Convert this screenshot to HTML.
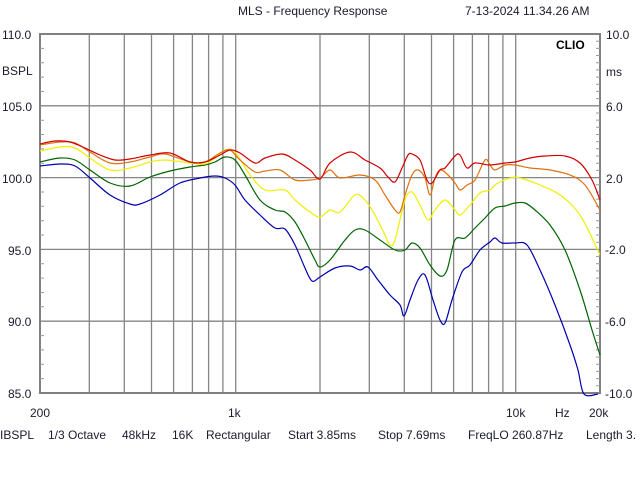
<!DOCTYPE html>
<html><head><meta charset="utf-8"><style>
html,body{margin:0;padding:0;background:#fff;width:640px;height:480px;overflow:hidden}
text{font-family:"Liberation Sans",sans-serif;font-size:12px;fill:#1a1a2e}
</style></head><body>
<svg width="640" height="480" xmlns="http://www.w3.org/2000/svg">
<g stroke="#858585" stroke-width="1.3" fill="none">
<line x1="89.3" y1="34" x2="89.3" y2="393"/><line x1="124.3" y1="34" x2="124.3" y2="393"/><line x1="151.5" y1="34" x2="151.5" y2="393"/><line x1="173.6" y1="34" x2="173.6" y2="393"/><line x1="192.4" y1="34" x2="192.4" y2="393"/><line x1="208.6" y1="34" x2="208.6" y2="393"/><line x1="222.9" y1="34" x2="222.9" y2="393"/><line x1="235.7" y1="34" x2="235.7" y2="393"/>
<line x1="320" y1="34" x2="320" y2="393"/><line x1="369.3" y1="34" x2="369.3" y2="393"/><line x1="404.3" y1="34" x2="404.3" y2="393"/><line x1="431.5" y1="34" x2="431.5" y2="393"/><line x1="453.6" y1="34" x2="453.6" y2="393"/><line x1="472.4" y1="34" x2="472.4" y2="393"/><line x1="488.6" y1="34" x2="488.6" y2="393"/><line x1="502.9" y1="34" x2="502.9" y2="393"/><line x1="515.7" y1="34" x2="515.7" y2="393"/>
<line x1="40" y1="105.8" x2="600" y2="105.8"/><line x1="40" y1="177.6" x2="600" y2="177.6"/><line x1="40" y1="249.4" x2="600" y2="249.4"/><line x1="40" y1="321.2" x2="600" y2="321.2"/>
</g>
<rect x="40" y="34" width="560" height="359" fill="none" stroke="#808080" stroke-width="2"/>
<g stroke="#999" stroke-width="1">
<path d="M40 48.4h4M40 62.7h4M40 77.1h4M40 91.5h4M40 120.2h4M40 134.5h4M40 148.9h4M40 163.2h4M40 192h4M40 206.3h4M40 220.7h4M40 235h4M40 263.8h4M40 278.1h4M40 292.5h4M40 306.8h4M40 335.6h4M40 349.9h4M40 364.3h4M40 378.6h4"/>
<path d="M596 41.2h4M596 48.4h4M596 55.5h4M596 62.7h4M596 69.9h4M596 77.1h4M596 84.2h4M596 91.4h4M596 98.6h4M596 113h4M596 120.1h4M596 127.3h4M596 134.5h4M596 141.7h4M596 148.8h4M596 156h4M596 163.2h4M596 170.4h4M596 184.8h4M596 192h4M596 199.1h4M596 206.3h4M596 213.5h4M596 220.7h4M596 227.8h4M596 235h4M596 242.2h4M596 256.6h4M596 263.8h4M596 270.9h4M596 278.1h4M596 285.3h4M596 292.4h4M596 299.6h4M596 306.8h4M596 314h4M596 328.4h4M596 335.5h4M596 342.7h4M596 349.9h4M596 357.1h4M596 364.2h4M596 371.4h4M596 378.6h4M596 385.8h4"/>
</g>
<g fill="none" stroke-width="1.2" stroke-linejoin="round" id="curves">
<polyline stroke="#0000b0" points="40,166 60,164 75,166 90,178 110,195 130,204 140,204 160,195 180,183 200,178 215,176 225,178 235,185 245,200 260,215 275,228 285,229 295,245 305,268 312,281 320,277 335,268 350,266 360,270 368,267 378,280 390,295 400,305 404,316 410,300 418,280 425,275 433,300 440,320 445,323 452,300 462,272 470,265 480,250 490,242 495,238 502,243 515,243 527,245 540,270 555,305 570,345 578,370 584,394 598,394"/>
<polyline stroke="#006400" points="40,162 60,158 75,160 90,170 110,183 130,186 150,177 170,171 190,167 205,165 215,162 225,157 235,160 245,175 260,200 275,210 285,212 295,222 305,240 315,260 320,267 330,260 345,240 355,230 365,230 380,240 395,250 405,250 412,243 420,248 430,265 440,276 447,270 455,240 465,238 475,228 485,218 495,208 505,206 515,203 525,203 535,210 550,225 565,250 580,290 592,330 600,355"/>
<polyline stroke="#f0f000" points="40,151 60,147 75,148 90,158 110,170 130,168 150,162 165,160 190,163 205,164 215,158 225,150 235,152 250,175 265,190 285,190 295,200 310,212 320,217 330,210 340,212 355,195 365,200 375,215 385,235 390,245 395,240 405,200 412,192 420,205 428,220 435,210 445,200 455,210 460,215 470,205 480,193 490,190 495,185 500,182 510,178 520,178 540,185 560,195 580,215 600,255"/>
<polyline stroke="#e07010" points="40,145 60,142 75,143 90,152 110,163 130,162 150,157 165,154 190,162 205,162 220,153 230,150 240,160 255,172 265,171 280,170 295,180 310,180 320,178 330,170 340,178 360,175 375,180 385,195 395,210 400,212 405,195 412,175 418,170 425,178 430,195 435,178 440,170 447,174 455,183 460,190 467,185 475,180 485,160 490,165 495,170 505,165 515,165 530,168 550,170 570,175 585,185 600,210"/>
<polyline stroke="#d00000" points="40,144 55,141 70,142 85,148 100,155 115,160 130,159 150,155 170,153 190,162 205,162 220,155 230,150 240,153 255,163 265,158 282,154 295,160 310,170 320,179 330,163 350,152 365,160 380,168 388,177 395,182 402,168 408,155 412,154 420,160 427,180 432,183 440,170 445,168 455,156 460,155 467,168 475,163 490,165 505,163 515,162 530,158 545,156 565,156 580,163 592,180 600,200"/>
</g>
<text x="238" y="15">MLS - Frequency Response</text>
<text x="465" y="15">7-13-2024 11.34.26 AM</text>
<text x="2" y="39">110.0</text>
<text x="2" y="75">BSPL</text>
<text x="2" y="111">105.0</text>
<text x="2" y="183">100.0</text>
<text x="8" y="255">95.0</text>
<text x="8" y="326">90.0</text>
<text x="8" y="398">85.0</text>
<text x="556" y="49" style="font-weight:bold;fill:#000">CLIO</text>
<text x="606" y="39">10.0</text>
<text x="606" y="76">ms</text>
<text x="606" y="111">6.0</text>
<text x="606" y="183">2.0</text>
<text x="605" y="254">-2.0</text>
<text x="605" y="326">-6.0</text>
<text x="605" y="398">-10.0</text>
<text x="30" y="417">200</text>
<text x="228" y="417">1k</text>
<text x="506" y="417">10k</text>
<text x="555" y="417">Hz</text>
<text x="589" y="417">20k</text>
<text x="0" y="439">IBSPL</text>
<text x="48" y="439">1/3 Octave</text>
<text x="122" y="439">48kHz</text>
<text x="172" y="439">16K</text>
<text x="206" y="439">Rectangular</text>
<text x="288" y="439">Start 3.85ms</text>
<text x="378" y="439">Stop 7.69ms</text>
<text x="468" y="439">FreqLO 260.87Hz</text>
<text x="586" y="439">Length 3.</text>
</svg>
<script>
document.querySelectorAll('#curves polyline').forEach(function(pl){
  var p=pl.getAttribute('points').trim().split(/\s+/).map(function(s){return s.split(',').map(Number)});
  var d='M'+p[0][0]+' '+p[0][1];
  for(var i=0;i<p.length-1;i++){
    var p0=p[i-1]||p[i],p1=p[i],p2=p[i+1],p3=p[i+2]||p2;
    var c1x=p1[0]+(p2[0]-p0[0])/6,c1y=p1[1]+(p2[1]-p0[1])/6;
    var c2x=p2[0]-(p3[0]-p1[0])/6,c2y=p2[1]-(p3[1]-p1[1])/6;
    d+=' C'+c1x.toFixed(1)+' '+c1y.toFixed(1)+' '+c2x.toFixed(1)+' '+c2y.toFixed(1)+' '+p2[0]+' '+p2[1];
  }
  var path=document.createElementNS('http://www.w3.org/2000/svg','path');
  path.setAttribute('d',d);path.setAttribute('stroke',pl.getAttribute('stroke'));
  pl.parentNode.replaceChild(path,pl);
});
</script>
</body></html>
